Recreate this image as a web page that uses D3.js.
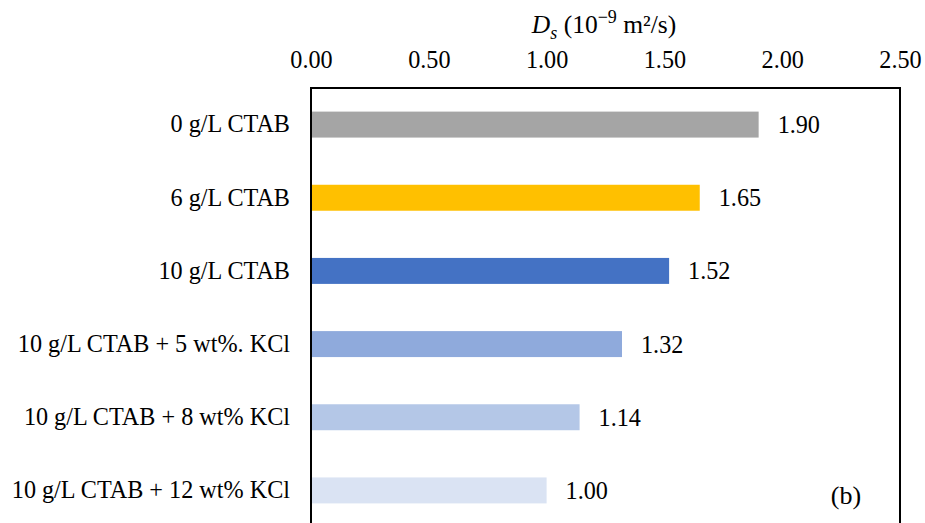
<!DOCTYPE html>
<html>
<head>
<meta charset="utf-8">
<script src="https://cdn.jsdelivr.net/npm/d3@7"></script>
<style>
  html, body { margin: 0; padding: 0; background: #fff; }
  svg text { font-family: "Liberation Serif", "Times New Roman", serif; fill: #000; }
</style>
</head>
<body>
<svg id="chart" width="925" height="523"></svg>
<script>
// Diffusion coefficient per formulation
const categories = [
  "0 g/L CTAB",
  "6 g/L CTAB",
  "10 g/L CTAB",
  "10 g/L CTAB + 5 wt%. KCl",
  "10 g/L CTAB + 8 wt% KCl",
  "10 g/L CTAB + 12 wt% KCl"
];
const values = [1.90, 1.65, 1.52, 1.32, 1.14, 1.00];
const barColors = ["#A5A5A5", "#FFC000", "#4472C4", "#8FAADC", "#B4C7E7", "#DAE3F3"];
const tickValues = [0, 0.5, 1.0, 1.5, 2.0, 2.5];

const FS = 24.2;
const svg = d3.select("#chart");
const margin = { left: 311, right: 25, top: 88 };
const plotW = 925 - margin.left - margin.right;
const plotH = 439;

const x = d3.scaleLinear().domain([0, 2.5]).range([margin.left, margin.left + plotW]);
const y = d3.scaleBand().domain(categories).range([margin.top, margin.top + plotH]).paddingInner(0.645).paddingOuter(0.3225);

// bars
svg.append("g").selectAll("rect")
  .data(categories)
  .join("rect")
  .attr("x", x(0))
  .attr("y", d => y(d))
  .attr("width", (d, i) => x(values[i]) - x(0))
  .attr("height", y.bandwidth())
  .attr("fill", (d, i) => barColors[i]);

// value labels
svg.append("g").selectAll("text")
  .data(categories)
  .join("text")
  .attr("x", (d, i) => x(values[i]) + 19)
  .attr("y", d => y(d) + y.bandwidth() / 2)
  .attr("dy", "0.35em")
  .attr("font-size", FS)
  .text((d, i) => values[i].toFixed(2));

// plot frame
svg.append("rect")
  .attr("x", margin.left)
  .attr("y", margin.top)
  .attr("width", plotW)
  .attr("height", plotH)
  .attr("fill", "none")
  .attr("stroke", "#000")
  .attr("stroke-width", 2);

// top axis
const xAxis = d3.axisTop(x).tickValues(tickValues).tickFormat(d3.format(".2f")).tickSize(0).tickPadding(20);
const gx = svg.append("g").attr("transform", `translate(0,${margin.top})`).call(xAxis);
gx.select(".domain").remove();
gx.selectAll("text").attr("font-size", FS).attr("font-family", "Liberation Serif");

// category axis
const yAxis = d3.axisLeft(y).tickSize(0).tickPadding(21);
const gy = svg.append("g").attr("transform", `translate(${margin.left},0)`).call(yAxis);
gy.select(".domain").remove();
gy.selectAll("text").attr("font-size", FS).attr("font-family", "Liberation Serif");

// axis title
const title = svg.append("text")
  .attr("x", 604)
  .attr("y", 33)
  .attr("text-anchor", "middle")
  .attr("font-size", 25.5);
title.append("tspan").attr("font-style", "italic").text("D");
title.append("tspan").attr("font-style", "italic").attr("font-size", 18).attr("dy", 6).text("s");
title.append("tspan").attr("dy", -6).text(" (10");
title.append("tspan").attr("font-size", 18).attr("dy", -10).text("−9");
title.append("tspan").attr("dy", 10).text(" m²/s)");

// panel tag
svg.append("text")
  .attr("x", 846)
  .attr("y", 504)
  .attr("text-anchor", "middle")
  .attr("font-size", 26)
  .text("(b)");
</script>
</body>
</html>
